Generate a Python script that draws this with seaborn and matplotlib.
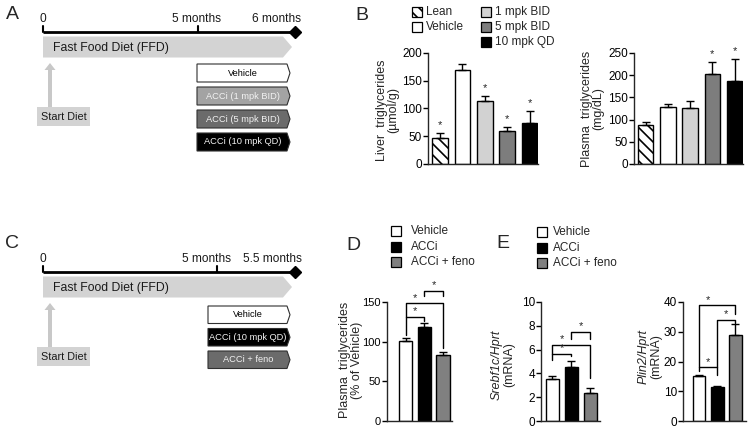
import numpy as np
import pandas as pd
import matplotlib
matplotlib.use("Agg")
import matplotlib.pyplot as plt
import seaborn as sns
from matplotlib.patches import Polygon, Rectangle

# ---- data ----
b_groups = ["Lean", "Vehicle", "1 mpk BID", "5 mpk BID", "10 mpk QD"]
b_colors = ["white", "white", "#d2d2d2", "#7d7d7d", "black"]
liver_tg = [47, 170, 113, 60, 74]
liver_err = [9, 10, 9, 6, 21]
liver_sig = [True, False, True, True, True]
plasma_tg = [88, 128, 127, 203, 186]
plasma_err = [6, 8, 14, 26, 50]
plasma_sig = [False, False, False, True, True]

de_groups = ["Vehicle", "ACCi", "ACCi + feno"]
de_colors = ["white", "black", "#808080"]
d_plasma_pct = [101, 119, 83]
d_plasma_err = [4, 5, 3.5]
e_srebf1c = [3.55, 4.55, 2.35]
e_srebf1c_err = [0.2, 0.47, 0.42]
e_plin2 = [15.0, 11.5, 28.8]
e_plin2_err = [0.6, 0.35, 3.8]

# significance brackets: (left bar, right bar, height, left leg end, right leg end)
d_brackets = [(0, 1, 131, 109, 126), (0, 2, 148.5, 131, 92), (1, 2, 164, 157, 157)]
e1_brackets = [(0, 1, 5.66, 5.1, 5.5), (0, 2, 6.42, 5.66, 3.6), (1, 2, 7.5, 6.9, 6.9)]
e2_brackets = [(0, 1, 18.1, 16.7, 15.5), (0, 2, 38.9, 18.1, 36.1), (1, 2, 34.1, 18.1, 33.0)]

# timelines
a_marks = ["0", "5 months", "6 months"]
a_boxes = ["Vehicle", "ACCi (1 mpk BID)", "ACCi (5 mpk BID)", "ACCi (10 mpk QD)"]
a_box_colors = ["white", "#a3a3a3", "#6b6b6b", "black"]
c_marks = ["0", "5 months", "5.5 months"]
c_boxes = ["Vehicle", "ACCi (10 mpk QD)", "ACCi + feno"]
c_box_colors = ["white", "black", "#6b6b6b"]

W, H = 750, 428
sns.set_style("ticks")
plt.rcParams["font.family"] = ["Liberation Sans", "DejaVu Sans"]
plt.rcParams["hatch.linewidth"] = 1.2
plt.rcParams["hatch.color"] = "black"

fig = plt.figure(figsize=(W / 100, H / 100), dpi=100)

# overlay in pixel coordinates for the schematics, legends and labels
ov = fig.add_axes([0, 0, 1, 1])
ov.set_xlim(0, W)
ov.set_ylim(H, 0)
ov.axis("off")


def rect(x0, y0, x1, y1):
    return [x0 / W, 1 - y1 / H, (x1 - x0) / W, (y1 - y0) / H]


def draw_timeline(yl, marks, tick_x, label_x, boxes, colors, bx0, btop, pitch, bh):
    ov.plot([43, 295], [yl, yl], color="black", lw=2, solid_capstyle="butt")
    ov.plot([295], [yl], marker="D", ms=6, color="black")
    for x in (43, tick_x):
        ov.plot([x, x], [yl - 6, yl], color="black", lw=1.5)
    for lab, x in zip(marks, label_x):
        ov.text(x, yl - 13, lab, ha="center", va="center", fontsize=8.6, color="#1a1a1a")
    # fast food diet arrow
    ov.add_patch(Polygon([(43, yl + 4.5), (283, yl + 4.5), (292, yl + 15), (283, yl + 25.5),
                          (43, yl + 25.5)], closed=True, fc="#d3d3d3", ec="none"))
    ov.text(53, yl + 15.5, "Fast Food Diet (FFD)", ha="left", va="center", fontsize=8.8,
            color="#1a1a1a")
    # start diet arrow + box
    ov.add_patch(Polygon([(44.5, yl + 38), (55.5, yl + 38), (50, yl + 31)], closed=True,
                         fc="#c8c8c8", ec="none"))
    ov.add_patch(Rectangle((48, yl + 38), 4, 37, fc="#c8c8c8", ec="none"))
    ov.add_patch(Rectangle((37, yl + 75), 53, 19, fc="#d3d3d3", ec="none"))
    ov.text(63.5, yl + 84.5, "Start Diet", ha="center", va="center", fontsize=7.8,
            color="#1a1a1a")
    # treatment boxes
    for i, (lab, col) in enumerate(zip(boxes, colors)):
        t = btop + i * pitch
        ov.add_patch(Polygon([(bx0, t), (287, t), (290, t + bh / 2), (287, t + bh), (bx0, t + bh)],
                             closed=True, fc=col, ec="#303030", lw=0.8))
        tc = "black" if col == "white" else "#f2f2f2"
        ov.text((bx0 + 288) / 2, t + bh / 2, lab, ha="center", va="center", fontsize=6.7, color=tc)


draw_timeline(32, a_marks, 198, [43, 197, 277], a_boxes, a_box_colors, 197, 64, 23, 18)
draw_timeline(272, c_marks, 217, [43, 206, 272], c_boxes, c_box_colors, 208, 306, 22.5, 17.5)


def bar_panel(ax, groups, vals, errs, colors, xlim, yticks, tsize=8.5):
    df = pd.DataFrame({"group": groups, "value": vals})
    sns.barplot(data=df, x="group", y="value", hue="group", palette=dict(zip(groups, colors)),
                width=0.7, edgecolor="black", linewidth=1.0, errorbar=None, legend=False, ax=ax)
    ax.errorbar(np.arange(len(vals)), vals, yerr=[np.zeros(len(vals)), errs], fmt="none",
                ecolor="black", elinewidth=1.0, capsize=3, capthick=1.0)
    ax.set_xlim(*xlim)
    ax.set_ylim(yticks[0], yticks[-1])
    ax.set_yticks(yticks)
    ax.set_xticks([])
    ax.set_xlabel("")
    ax.set_ylabel("")
    sns.despine(ax=ax)
    for s in ax.spines.values():
        s.set_linewidth(1.0)
    ax.tick_params(axis="y", length=3.5, width=1, labelsize=tsize, pad=0.8, colors="black")
    ax.patch.set_alpha(0)


def stars(ax, vals, errs, sig):
    for i, (v, e, s) in enumerate(zip(vals, errs, sig)):
        if s:
            ax.annotate("*", (i, v + e), xytext=(0, 6), textcoords="offset points",
                        ha="center", va="center", fontsize=8, annotation_clip=False)


def brackets(ax, spec):
    for i, j, y, yl, yr in spec:
        ax.plot([i, i, j, j], [yl, y, y, yr], color="black", lw=1, clip_on=False)
        ax.annotate("*", (i + 0.5, y), xytext=(0, 4), textcoords="offset points",
                    ha="center", va="center", fontsize=8, annotation_clip=False)


ax_l = fig.add_axes(rect(428, 53, 538, 164))
bar_panel(ax_l, b_groups, liver_tg, liver_err, b_colors, (-0.54, 4.38), [0, 50, 100, 150, 200])
ax_l.patches[0].set_hatch("\\\\\\")
stars(ax_l, liver_tg, liver_err, liver_sig)

ax_p = fig.add_axes(rect(634, 53, 743, 164))
bar_panel(ax_p, b_groups, plasma_tg, plasma_err, b_colors, (-0.52, 4.38), [0, 50, 100, 150, 200, 250])
ax_p.patches[0].set_hatch("\\\\\\")
stars(ax_p, plasma_tg, plasma_err, plasma_sig)

ax_d = fig.add_axes(rect(387, 302, 452, 421))
bar_panel(ax_d, de_groups, d_plasma_pct, d_plasma_err, de_colors, (-0.99, 2.48), [0, 50, 100, 150], 8)
brackets(ax_d, d_brackets)

ax_e1 = fig.add_axes(rect(541, 302, 600, 421))
bar_panel(ax_e1, de_groups, e_srebf1c, e_srebf1c_err, de_colors, (-0.6, 2.5), [0, 2, 4, 6, 8, 10], 8.5)
brackets(ax_e1, e1_brackets)

ax_e2 = fig.add_axes(rect(683, 302, 746, 421))
bar_panel(ax_e2, de_groups, e_plin2, e_plin2_err, de_colors, (-0.88, 2.58), [0, 10, 20, 30, 40], 8.5)
brackets(ax_e2, e2_brackets)

# y labels (two lines, second in parentheses)
ylab = [
    ("Liver  triglycerides", "(\u00b5mol/g)", 382, 393, 110, "normal"),
    ("Plasma  triglycerides", "(mg/dL)", 587, 598, 109, "normal"),
    ("Plasma  triglycerides", "(% of Vehicle)", 345, 357, 360, "normal"),
    ("Srebf1c/Hprt", "(mRNA)", 497, 509, 365, "italic"),
    ("Plin2/Hprt", "(mRNA)", 644, 656, 357, "italic"),
]
for l1, l2, x1, x2, yc, st in ylab:
    ov.text(x1, yc, l1, rotation=90, ha="center", va="center", fontsize=9, style=st)
    ov.text(x2, yc, l2, rotation=90, ha="center", va="center", fontsize=9)

# legends
def legend(items, colors, xs, ys, tx_off, hatch_first=False):
    for k, (lab, col, x, y) in enumerate(zip(items, colors, xs, ys)):
        p = Rectangle((x, y - 5), 10, 10, fc=col, ec="black", lw=0.9)
        if hatch_first and k == 0:
            p.set_hatch("\\\\\\")
        ov.add_patch(p)
        ov.text(x + tx_off, y, lab, ha="left", va="center", fontsize=8.5)


legend(b_groups, b_colors, [412, 412, 481, 481, 481], [12, 27, 12, 27, 42], 14, hatch_first=True)
legend(de_groups, de_colors, [391, 391, 391], [231, 247, 262], 20)
legend(de_groups, de_colors, [537, 537, 537], [232, 248, 263], 16)

# panel letters
for lab, x, y in [("A", 12, 14), ("B", 362, 15), ("C", 12, 243), ("D", 353, 245), ("E", 503, 243)]:
    ov.text(x, y, lab, ha="center", va="center", fontsize=14)

fig.savefig("out.png", dpi=100)
